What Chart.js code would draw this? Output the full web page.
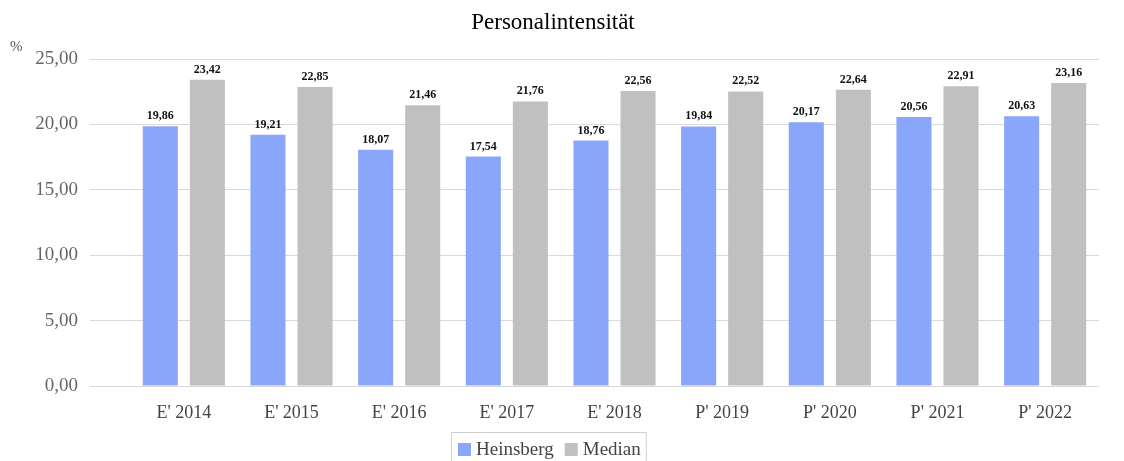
<!DOCTYPE html>
<html><head><meta charset="utf-8">
<script src="https://cdn.jsdelivr.net/npm/chart.js@4/dist/chart.umd.min.js"></script>
<style>html,body{margin:0;padding:0;background:#fff}#wrap{width:1124px;height:461px}</style>
</head><body><div id="wrap"><canvas id="c" width="1124" height="461"></canvas></div>
<script>
const categories = ["E' 2014","E' 2015","E' 2016","E' 2017","E' 2018","P' 2019","P' 2020","P' 2021","P' 2022"];
const heinsberg = [19.86,19.21,18.07,17.54,18.76,19.84,20.17,20.56,20.63];
const median = [23.42,22.85,21.46,21.76,22.56,22.52,22.64,22.91,23.16];
const seriesNames = ["Heinsberg","Median"];
const seriesColors = ["#8aa6fa","#c0c0c0"];
const yTicks = [0,5,10,15,20,25];
const titleText = "Personalintensität";
const unitText = "%";
const SERIF = "'Liberation Serif','DejaVu Serif',serif";
const fmt = v => v.toFixed(2).replace('.',',');

const overlay = {
  id:'overlay',
  afterDatasetsDraw(chart){
    const ctx = chart.ctx;
    ctx.save();
    // data labels
    ctx.font = "bold 12px " + SERIF;
    ctx.fillStyle = "#111";
    ctx.textAlign = "center";
    ctx.textBaseline = "alphabetic";
    chart.data.datasets.forEach((ds,i)=>{
      chart.getDatasetMeta(i).data.forEach((bar,j)=>{
        ctx.fillText(fmt(ds.data[j]), bar.x, bar.y - 7);
      });
    });
    // title
    ctx.font = "23px " + SERIF;
    ctx.fillStyle = "#000";
    ctx.textBaseline = "middle";
    ctx.fillText(titleText, 553, 23);
    // unit
    ctx.font = "15px " + SERIF;
    ctx.fillStyle = "#555";
    ctx.textAlign = "left";
    ctx.fillText(unitText, 10, 47);
    // legend
    ctx.font = "19px " + SERIF;
    let x = 458; const yc = 450;
    const items = [];
    chart.data.datasets.forEach((ds)=>{
      const w = ctx.measureText(ds.label).width;
      items.push({ds, x, w});
      x += 13 + 5 + w + 11;
    });
    const right = x - 11 + 5;
    ctx.strokeStyle = "#d0d0d0";
    ctx.lineWidth = 1;
    ctx.strokeRect(451.5, 432.5, right - 451, 40);
    items.forEach(it=>{
      ctx.fillStyle = it.ds.backgroundColor;
      ctx.fillRect(it.x, yc-7, 13, 13);
      ctx.fillStyle = "#444";
      ctx.textBaseline = "middle";
      ctx.fillText(it.ds.label, it.x + 18, yc);
    });
    ctx.restore();
  }
};

new Chart(document.getElementById('c'), {
  type:'bar',
  data:{
    labels: categories,
    datasets:[
      {label:seriesNames[0], data:heinsberg, backgroundColor:seriesColors[0]},
      {label:seriesNames[1], data:median, backgroundColor:seriesColors[1]}
    ]
  },
  options:{
    responsive:false, animation:false,
    layout:{padding:{left:0, top:59, right:25, bottom:0}},
    categoryPercentage:0.874, barPercentage:0.745,
    plugins:{legend:{display:false}, title:{display:false}, tooltip:{enabled:false}},
    scales:{
      x:{
        grid:{display:false}, border:{display:false},
        ticks:{font:{family:SERIF,size:18}, color:"#444", padding:8, maxRotation:0},
        afterFit(s){ s.height = 75; }
      },
      y:{
        min:0, max:25,
        afterBuildTicks(s){ s.ticks = yTicks.map(v=>({value:v})); },
        grid:{color:"#d9d9d9", drawTicks:true, tickLength:40, tickColor:"#d9d9d9"},
        border:{display:false},
        ticks:{font:{family:SERIF,size:19}, color:"#666", padding:12, callback:v=>fmt(v)},
        afterFit(s){ s.width = 130; }
      }
    }
  },
  plugins:[overlay]
});
</script></body></html>
